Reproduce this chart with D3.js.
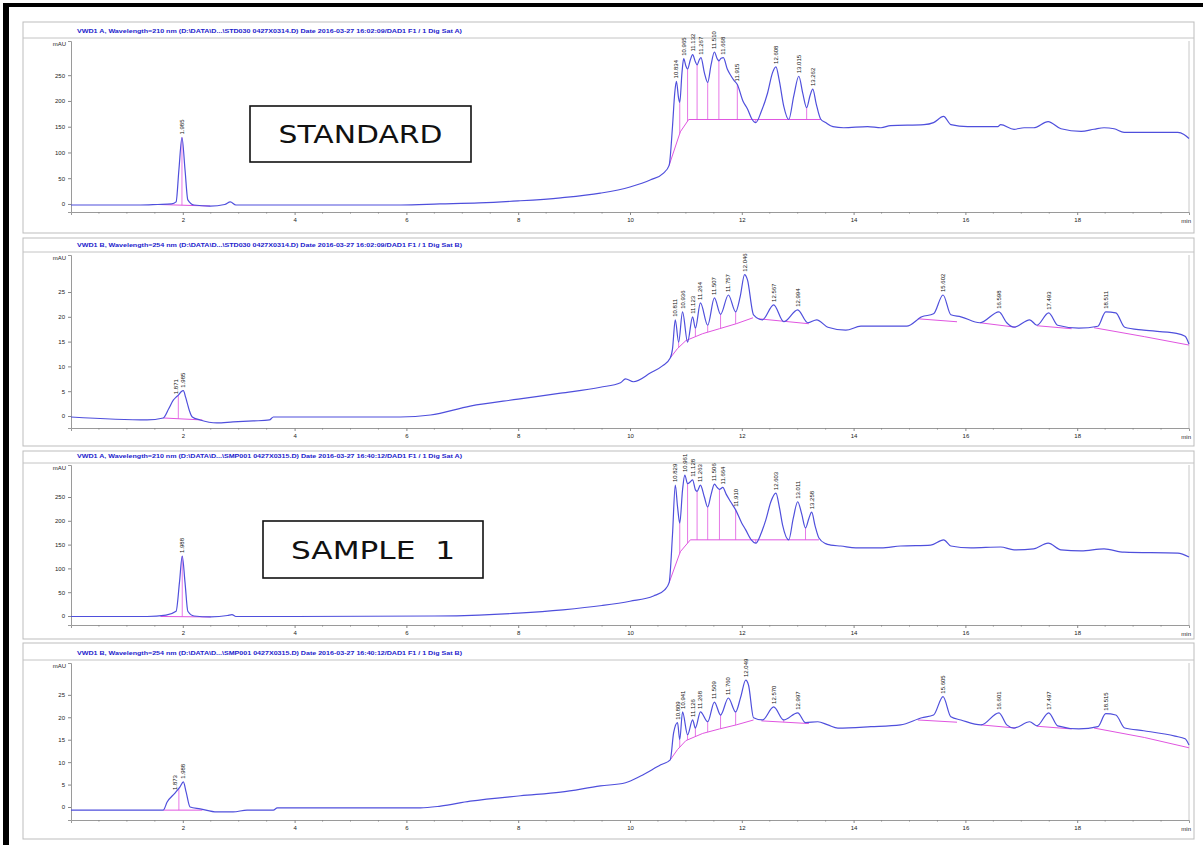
<!DOCTYPE html>
<html><head><meta charset="utf-8">
<script src="https://cdn.jsdelivr.net/npm/d3@7"></script>
<style>body{margin:0;background:#fff}svg{display:block}</style>
</head><body>
<svg id="chart" width="1203" height="845"></svg>
<script>
// ---------------- DATA ----------------
const xTickValues = [2, 4, 6, 8, 10, 12, 14, 16, 18];
const xEndLabel = "min";
const yUnit = "mAU";
const yTicksHigh = [0, 50, 100, 150, 200, 250];
const yTicksLow = [0, 5, 10, 15, 20, 25];

const titles = [
  "VWD1 A, Wavelength=210 nm (D:\\DATA\\D...\\STD030 0427X0314.D) Date 2016-03-27 16:02:09/DAD1 F1 / 1 Dig Sat A)",
  "VWD1 B, Wavelength=254 nm (D:\\DATA\\D...\\STD030 0427X0314.D) Date 2016-03-27 16:02:09/DAD1 F1 / 1 Dig Sat B)",
  "VWD1 A, Wavelength=210 nm (D:\\DATA\\D...\\SMP001 0427X0315.D) Date 2016-03-27 16:40:12/DAD1 F1 / 1 Dig Sat A)",
  "VWD1 B, Wavelength=254 nm (D:\\DATA\\D...\\SMP001 0427X0315.D) Date 2016-03-27 16:40:12/DAD1 F1 / 1 Dig Sat B)"
];
const boxLabels = ["STANDARD", "SAMPLE  1"];

// trace 1 : standard, 210 nm  [time (min), signal (mAU)]
const trace1 = [[0,-2],[1.24,-2],[1.55,-1],[1.80,0],[1.88,4],[1.93,66],[1.985,129],[2.04,66],[2.09,8],[2.2,-2],[2.49,-4],[2.75,-1],[2.85,4],[2.95,-2],[4.1,-2],[5.9,-2],[6.6,0],[7.3,2],[8.0,6],[8.76,12],[9.47,21],[10.0,33],[10.37,47],[10.6,60],[10.70,75],
[10.76,150],[10.80,215],[10.83,238],[10.87,205],[10.89,197],[10.93,255],[10.96,282],[11.0,268],[11.03,262],[11.08,280],[11.12,290],[11.17,276],[11.20,270],[11.24,280],[11.27,284],[11.33,255],[11.39,236],[11.45,270],[11.51,295],[11.56,282],[11.59,278],[11.63,283],[11.67,284],[11.74,262],[11.80,250],[11.86,240],[11.92,232],[12.02,200],[12.10,185],[12.18,165],[12.25,158],[12.35,180],[12.46,215],[12.55,255],[12.61,266],[12.67,240],[12.75,190],[12.84,164],[12.93,210],[13.02,248],[13.09,215],[13.16,187],[13.22,210],[13.27,223],[13.33,195],[13.41,165],[13.50,158],[13.63,150],
[13.82,148],[14.25,150],[14.49,148],[14.66,152],[15.26,154],[15.43,158],[15.61,170],[15.74,154],[16.04,150],[16.58,150],[16.63,154],[16.87,145],[17.05,148],[17.22,148],[17.48,160],[17.71,146],[18.07,141],[18.30,145],[18.48,148],[18.66,146],[18.84,139],[19.80,139],[19.91,135],[20.0,127]];

// trace 2 : standard, 254 nm
const trace2 = [[0,-0.2],[1.36,-0.8],[1.65,-0.4],[1.75,1.5],[1.83,3.2],[1.88,3.8],[1.92,4.2],[1.97,4.9],[2.01,5.1],[2.05,3.8],[2.08,2.6],[2.12,1.0],[2.17,-0.2],[2.31,-0.8],[2.61,-1.4],[2.90,-1.2],[3.26,-1.0],[3.55,-0.8],[3.62,-0.2],[5.89,-0.2],[6.43,0.2],[7.14,2.0],[8.0,3.4],[8.76,4.6],[9.47,5.8],[9.83,6.7],[9.92,7.5],[10.06,6.9],[10.37,8.7],[10.58,10.1],[10.72,11.7],
[10.76,13.5],[10.81,19.4],[10.87,14.9],[10.94,21.0],[11.03,14.9],[11.12,20.0],[11.17,17.7],[11.26,22.8],[11.39,18.3],[11.51,23.8],[11.62,20.5],[11.76,24.4],[11.89,21.0],[11.97,24.0],[12.05,28.5],[12.10,27.5],[12.21,20.4],[12.37,19.4],[12.57,22.4],[12.75,19.0],[13.0,21.4],[13.18,18.8],[13.34,19.4],[13.54,17.9],[13.86,17.3],[14.13,18.1],[14.95,18.1],[15.22,20.0],[15.43,20.6],[15.60,24.4],[15.74,20.4],[15.92,20.0],[16.26,18.8],[16.60,21.0],[16.74,18.8],[16.87,17.9],[17.15,19.4],[17.28,18.3],[17.49,20.8],[17.65,18.3],[18.03,17.7],[18.37,18.1],[18.51,21.0],[18.69,20.8],[18.85,17.9],[19.19,17.3],[19.75,16.7],[19.93,16.1],[20.0,14.5]];

// trace 3 : sample 1, 210 nm
const trace3 = [[0,-1],[1.36,-1],[1.70,2],[1.88,10],[1.94,70],[1.99,126],[2.04,70],[2.09,10],[2.2,0],[2.5,-2],[2.80,1],[2.88,3],[2.95,-1],[4.0,-1],[6.5,0],[7.3,2],[8.0,6],[8.8,13],[9.5,22],[10.0,31],[10.42,42],[10.62,55],[10.70,70],
[10.76,170],[10.81,275],[10.85,230],[10.89,195],[10.94,265],[10.98,296],[11.03,278],[11.08,282],[11.12,286],[11.17,265],[11.20,262],[11.26,275],[11.33,250],[11.39,229],[11.45,255],[11.51,277],[11.56,270],[11.60,266],[11.66,270],[11.72,256],[11.80,240],[11.89,223],[12.0,195],[12.07,181],[12.17,160],[12.25,153],[12.35,175],[12.43,202],[12.52,240],[12.61,258],[12.67,230],[12.73,191],[12.84,160],[12.92,205],[13.0,240],[13.07,215],[13.14,185],[13.20,205],[13.25,218],[13.31,190],[13.38,164],[13.50,152],[13.59,149],[13.77,147],
[14.04,143],[14.49,143],[14.84,147],[15.38,149],[15.61,160],[15.74,147],[16.10,143],[16.63,145],[16.87,139],[17.22,141],[17.48,153],[17.71,139],[18.07,137],[18.48,141],[18.84,134],[19.80,132],[20.0,124]];

// trace 4 : sample 1, 254 nm
const trace4 = [[0,-0.7],[1.36,-0.7],[1.65,-0.7],[1.72,1.1],[1.86,3.1],[1.95,4.5],[2.01,5.6],[2.06,3.3],[2.13,0],[2.31,-0.4],[2.61,-1.1],[2.90,-1.1],[3.15,-0.7],[3.62,-0.7],[3.69,-0.2],[6.25,-0.2],[6.61,0.2],[7.14,1.3],[8.04,2.5],[8.76,3.3],[9.47,4.7],[9.92,5.4],[10.19,6.9],[10.55,9.4],[10.72,10.5],
[10.78,16.5],[10.85,18.8],[10.89,15.0],[10.94,21.2],[11.03,16.1],[11.12,19.4],[11.17,17.6],[11.26,21.2],[11.39,19.0],[11.51,23.4],[11.62,20.5],[11.76,24.3],[11.89,21.2],[11.98,24.5],[12.07,28.3],[12.12,27.2],[12.21,19.9],[12.37,19.4],[12.57,22.3],[12.75,19.4],[13.0,21.0],[13.14,18.8],[13.36,19.0],[13.54,18.3],[13.72,17.6],[14.31,17.9],[14.84,18.3],[15.22,19.9],[15.43,20.5],[15.60,24.6],[15.74,20.1],[15.92,19.4],[16.28,18.3],[16.60,21.0],[16.74,18.3],[16.87,17.6],[17.15,19.0],[17.28,18.1],[17.49,21.0],[17.65,18.1],[18.03,17.4],[18.37,17.9],[18.51,20.8],[18.69,20.5],[18.85,17.6],[19.19,17.0],[19.75,15.8],[19.93,15.2],[20.0,13.8]];

// integration baselines (segments of [time, signal])
const baselines1 = [[[1.55,-1],[2.49,-4]], [[10.70,75],[10.90,140],[11.05,164],[13.41,164]]];
const baselines2 = [[[1.65,-0.4],[2.35,-0.8]], [[10.72,11.7],[10.85,13.6],[11.0,15.2],[11.3,16.6],[11.6,17.6],[11.9,18.6],[12.2,19.8]], [[12.3,19.6],[13.2,18.6]], [[15.15,19.6],[15.85,19.0]], [[16.26,18.8],[16.9,17.9]], [[17.28,18.2],[17.9,17.6]], [[18.3,17.8],[19.2,16.0],[20.0,14.3]]];
const baselines3 = [[[1.6,-1],[2.5,-2]], [[10.70,70],[10.90,135],[11.08,160],[13.38,160]]];
const baselines4 = [[[1.65,-0.7],[2.35,-0.7]], [[10.72,10.5],[10.85,12.8],[11.0,14.8],[11.3,16.4],[11.6,17.4],[11.9,18.3],[12.21,19.4]], [[12.35,19.2],[13.2,18.6]], [[15.15,19.4],[15.85,18.9]], [[16.28,18.3],[16.9,17.6]], [[17.28,18.0],[17.9,17.4]], [[18.3,17.6],[19.2,15.5],[20.0,13.2]]];

// drop lines (time, min)
const drops1 = [1.985, 10.89, 11.03, 11.20, 11.39, 11.59, 11.92, 12.25, 12.84, 13.16];
const drops2 = [1.92, 10.87, 11.03, 11.17, 11.39, 11.62, 11.89, 12.75];
const drops3 = [1.99, 10.89, 11.03, 11.20, 11.39, 11.60, 11.89, 12.25, 12.84, 13.14];
const drops4 = [1.93, 10.89, 11.03, 11.17, 11.39, 11.62, 11.89, 12.75];

// peak labels [retention time, label]
const peaks1 = [[1.985,"1.985"],[10.83,"10.834"],[10.96,"10.965"],[11.12,"11.132"],[11.27,"11.267"],[11.51,"11.510"],[11.67,"11.668"],[11.92,"11.915"],[12.61,"12.608"],[13.02,"13.015"],[13.27,"13.262"]];
const peaks2 = [[1.88,"1.871"],[2.01,"1.985"],[10.81,"10.811"],[10.94,"10.936"],[11.12,"11.123"],[11.26,"11.264"],[11.51,"11.507"],[11.76,"11.757"],[12.05,"12.046"],[12.57,"12.567"],[13.0,"12.994"],[15.60,"15.602"],[16.60,"16.598"],[17.49,"17.493"],[18.51,"18.511"]];
const peaks3 = [[1.99,"1.988"],[10.81,"10.829"],[10.98,"10.961"],[11.12,"11.128"],[11.26,"11.263"],[11.51,"11.506"],[11.66,"11.664"],[11.89,"11.910"],[12.61,"12.603"],[13.0,"13.011"],[13.25,"13.258"]];
const peaks4 = [[1.86,"1.873"],[2.01,"1.988"],[10.85,"10.809"],[10.94,"10.941"],[11.12,"11.126"],[11.26,"11.268"],[11.51,"11.509"],[11.76,"11.760"],[12.07,"12.049"],[12.57,"12.570"],[13.0,"12.997"],[15.60,"15.605"],[16.60,"16.601"],[17.49,"17.497"],[18.51,"18.515"]];

// ---------------- LAYOUT ----------------
const panels = [
  {trace: trace1, bl: baselines1, drops: drops1, peaks: peaks1, ticks: yTicksHigh, title: titles[0], frameTop: 22, frameBottom: 233, titleLine: 38, plotTop: 41, plotBottom: 212, yDom: [-15.6, 316.4]},
  {trace: trace2, bl: baselines2, drops: drops2, peaks: peaks2, ticks: yTicksLow, title: titles[1], frameTop: 238, frameBottom: 446, titleLine: 252, plotTop: 255, plotBottom: 428, yDom: [-2.42, 32.46]},
  {trace: trace3, bl: baselines3, drops: drops3, peaks: peaks3, ticks: yTicksHigh, title: titles[2], frameTop: 451, frameBottom: 639, titleLine: 463, plotTop: 465, plotBottom: 625, yDom: [-18.9, 317.2]},
  {trace: trace4, bl: baselines4, drops: drops4, peaks: peaks4, ticks: yTicksLow, title: titles[3], frameTop: 643, frameBottom: 839, titleLine: 660, plotTop: 663, plotBottom: 820, yDom: [-2.9, 32.1]}
];
const plotLeft = 71, plotRight = 1189;
const frameLeft = 23, frameRight = 1194;
const curveColor = "#4f4fdc", pink = "#e055e0";

const svg = d3.select("#chart");
svg.append("rect").attr("width", 1203).attr("height", 845).attr("fill", "#fff");

const x = d3.scaleLinear().domain([0, 20]).range([plotLeft, plotRight]);

function valueAt(arr, t) {
  const i = d3.bisector(d => d[0]).left(arr, t);
  if (i <= 0) return arr[0][1];
  if (i >= arr.length) return arr[arr.length - 1][1];
  const a = arr[i - 1], b = arr[i];
  return a[1] + (b[1] - a[1]) * (t - a[0]) / (b[0] - a[0]);
}

panels.forEach((p, pi) => {
  const g = svg.append("g");
  const y = d3.scaleLinear().domain(p.yDom).range([p.plotBottom, p.plotTop]);

  // frame
  g.append("rect").attr("x", frameLeft).attr("y", p.frameTop).attr("width", frameRight - frameLeft)
    .attr("height", p.frameBottom - p.frameTop).attr("fill", "none").attr("stroke", "#bdbdbd").attr("stroke-width", 1);
  g.append("line").attr("x1", frameLeft).attr("x2", frameRight).attr("y1", p.titleLine).attr("y2", p.titleLine)
    .attr("stroke", "#c4c4c4");
  g.append("text").attr("x", 77).attr("y", p.titleLine - 5).attr("font-family", "Liberation Sans, Arial")
    .attr("font-size", 5.6).attr("fill", "#2222cc").attr("font-weight", "bold")
    .attr("textLength", 385).attr("lengthAdjust", "spacingAndGlyphs").text(p.title);

  // plot frame
  g.append("line").attr("x1", plotRight).attr("x2", plotRight).attr("y1", p.plotTop).attr("y2", p.plotBottom).attr("stroke", "#c8c8c8");

  // x axis
  const xAxis = d3.axisBottom(x).tickValues(xTickValues).tickSize(3).tickFormat(d3.format("d"));
  const xa = g.append("g").attr("transform", `translate(0,${p.plotBottom})`).call(xAxis);
  const minor = d3.range(0.5, 20, 0.5).filter(v => v % 2 !== 0);
  xa.selectAll(".minor").data(minor).enter().append("line").attr("class", "minor")
    .attr("x1", d => x(d)).attr("x2", d => x(d)).attr("y1", 0).attr("y2", 1.5).attr("stroke", "#888");
  xa.append("text").attr("x", x(20) + 2).attr("y", 11).attr("text-anchor", "end").attr("fill", "#222").text(xEndLabel);

  // y axis
  const yAxis = d3.axisLeft(y).tickValues(p.ticks).tickSize(3).tickFormat(d3.format("d"));
  const ya = g.append("g").attr("transform", `translate(${plotLeft},0)`).call(yAxis);
  ya.append("text").attr("x", -5).attr("y", p.plotTop + 5).attr("text-anchor", "end").attr("fill", "#222").text(yUnit);
  [xa, ya].forEach(a => {
    a.selectAll(".domain").attr("stroke", "#9a9a9a");
    a.selectAll(".tick line").attr("stroke", "#888");
    a.selectAll("text").attr("font-family", "Liberation Sans, Arial").attr("font-size", 6).attr("fill", "#222");
  });

  const line = d3.line().x(d => x(d[0])).y(d => y(d[1]));
  const smooth = d3.line().x(d => x(d[0])).y(d => y(d[1])).curve(d3.curveMonotoneX);

  // baselines
  g.selectAll(".bl").data(p.bl).enter().append("path").attr("d", line)
    .attr("fill", "none").attr("stroke", pink).attr("stroke-width", 1);
  // drop lines
  p.drops.forEach(t => {
    const seg = p.bl.find(s => t >= s[0][0] && t <= s[s.length - 1][0]);
    if (!seg) return;
    g.append("line").attr("x1", x(t)).attr("x2", x(t)).attr("y1", y(valueAt(p.trace, t))).attr("y2", y(valueAt(seg, t)))
      .attr("stroke", pink).attr("stroke-width", 0.8);
  });

  // signal
  g.append("path").datum(p.trace).attr("d", smooth).attr("fill", "none")
    .attr("stroke", curveColor).attr("stroke-width", 1.2).attr("stroke-linejoin", "round");

  // peak labels
  p.peaks.forEach(([t, lab]) => {
    const vy = y(valueAt(p.trace, t)) - 3;
    g.append("text").attr("transform", `translate(${x(t) + 2},${vy}) rotate(-90)`)
      .attr("font-family", "Liberation Sans, Arial").attr("font-size", 6).attr("fill", "#111")
      .text(lab);
  });
});

// annotation boxes
const boxes = [
  {x: 250, y: 106, w: 221, h: 56, label: boxLabels[0]},
  {x: 263, y: 521, w: 220, h: 57, label: boxLabels[1]}
];
boxes.forEach(b => {
  svg.append("rect").attr("x", b.x).attr("y", b.y).attr("width", b.w).attr("height", b.h)
    .attr("fill", "#fff").attr("stroke", "#111").attr("stroke-width", 1.6);
  svg.append("text").attr("x", b.x + b.w / 2).attr("y", b.y + b.h / 2 + 9).attr("text-anchor", "middle")
    .attr("font-family", "DejaVu Sans, Verdana").attr("font-size", 25).attr("fill", "#111")
    .attr("textLength", 164).attr("lengthAdjust", "spacingAndGlyphs").attr("xml:space", "preserve")
    .style("white-space", "pre").text(b.label);
});

// outer black border
svg.append("rect").attr("x", 3).attr("y", 3).attr("width", 6).attr("height", 842).attr("fill", "#000");
svg.append("rect").attr("x", 3).attr("y", 3).attr("width", 1200).attr("height", 4).attr("fill", "#000");
</script>
</body></html>
